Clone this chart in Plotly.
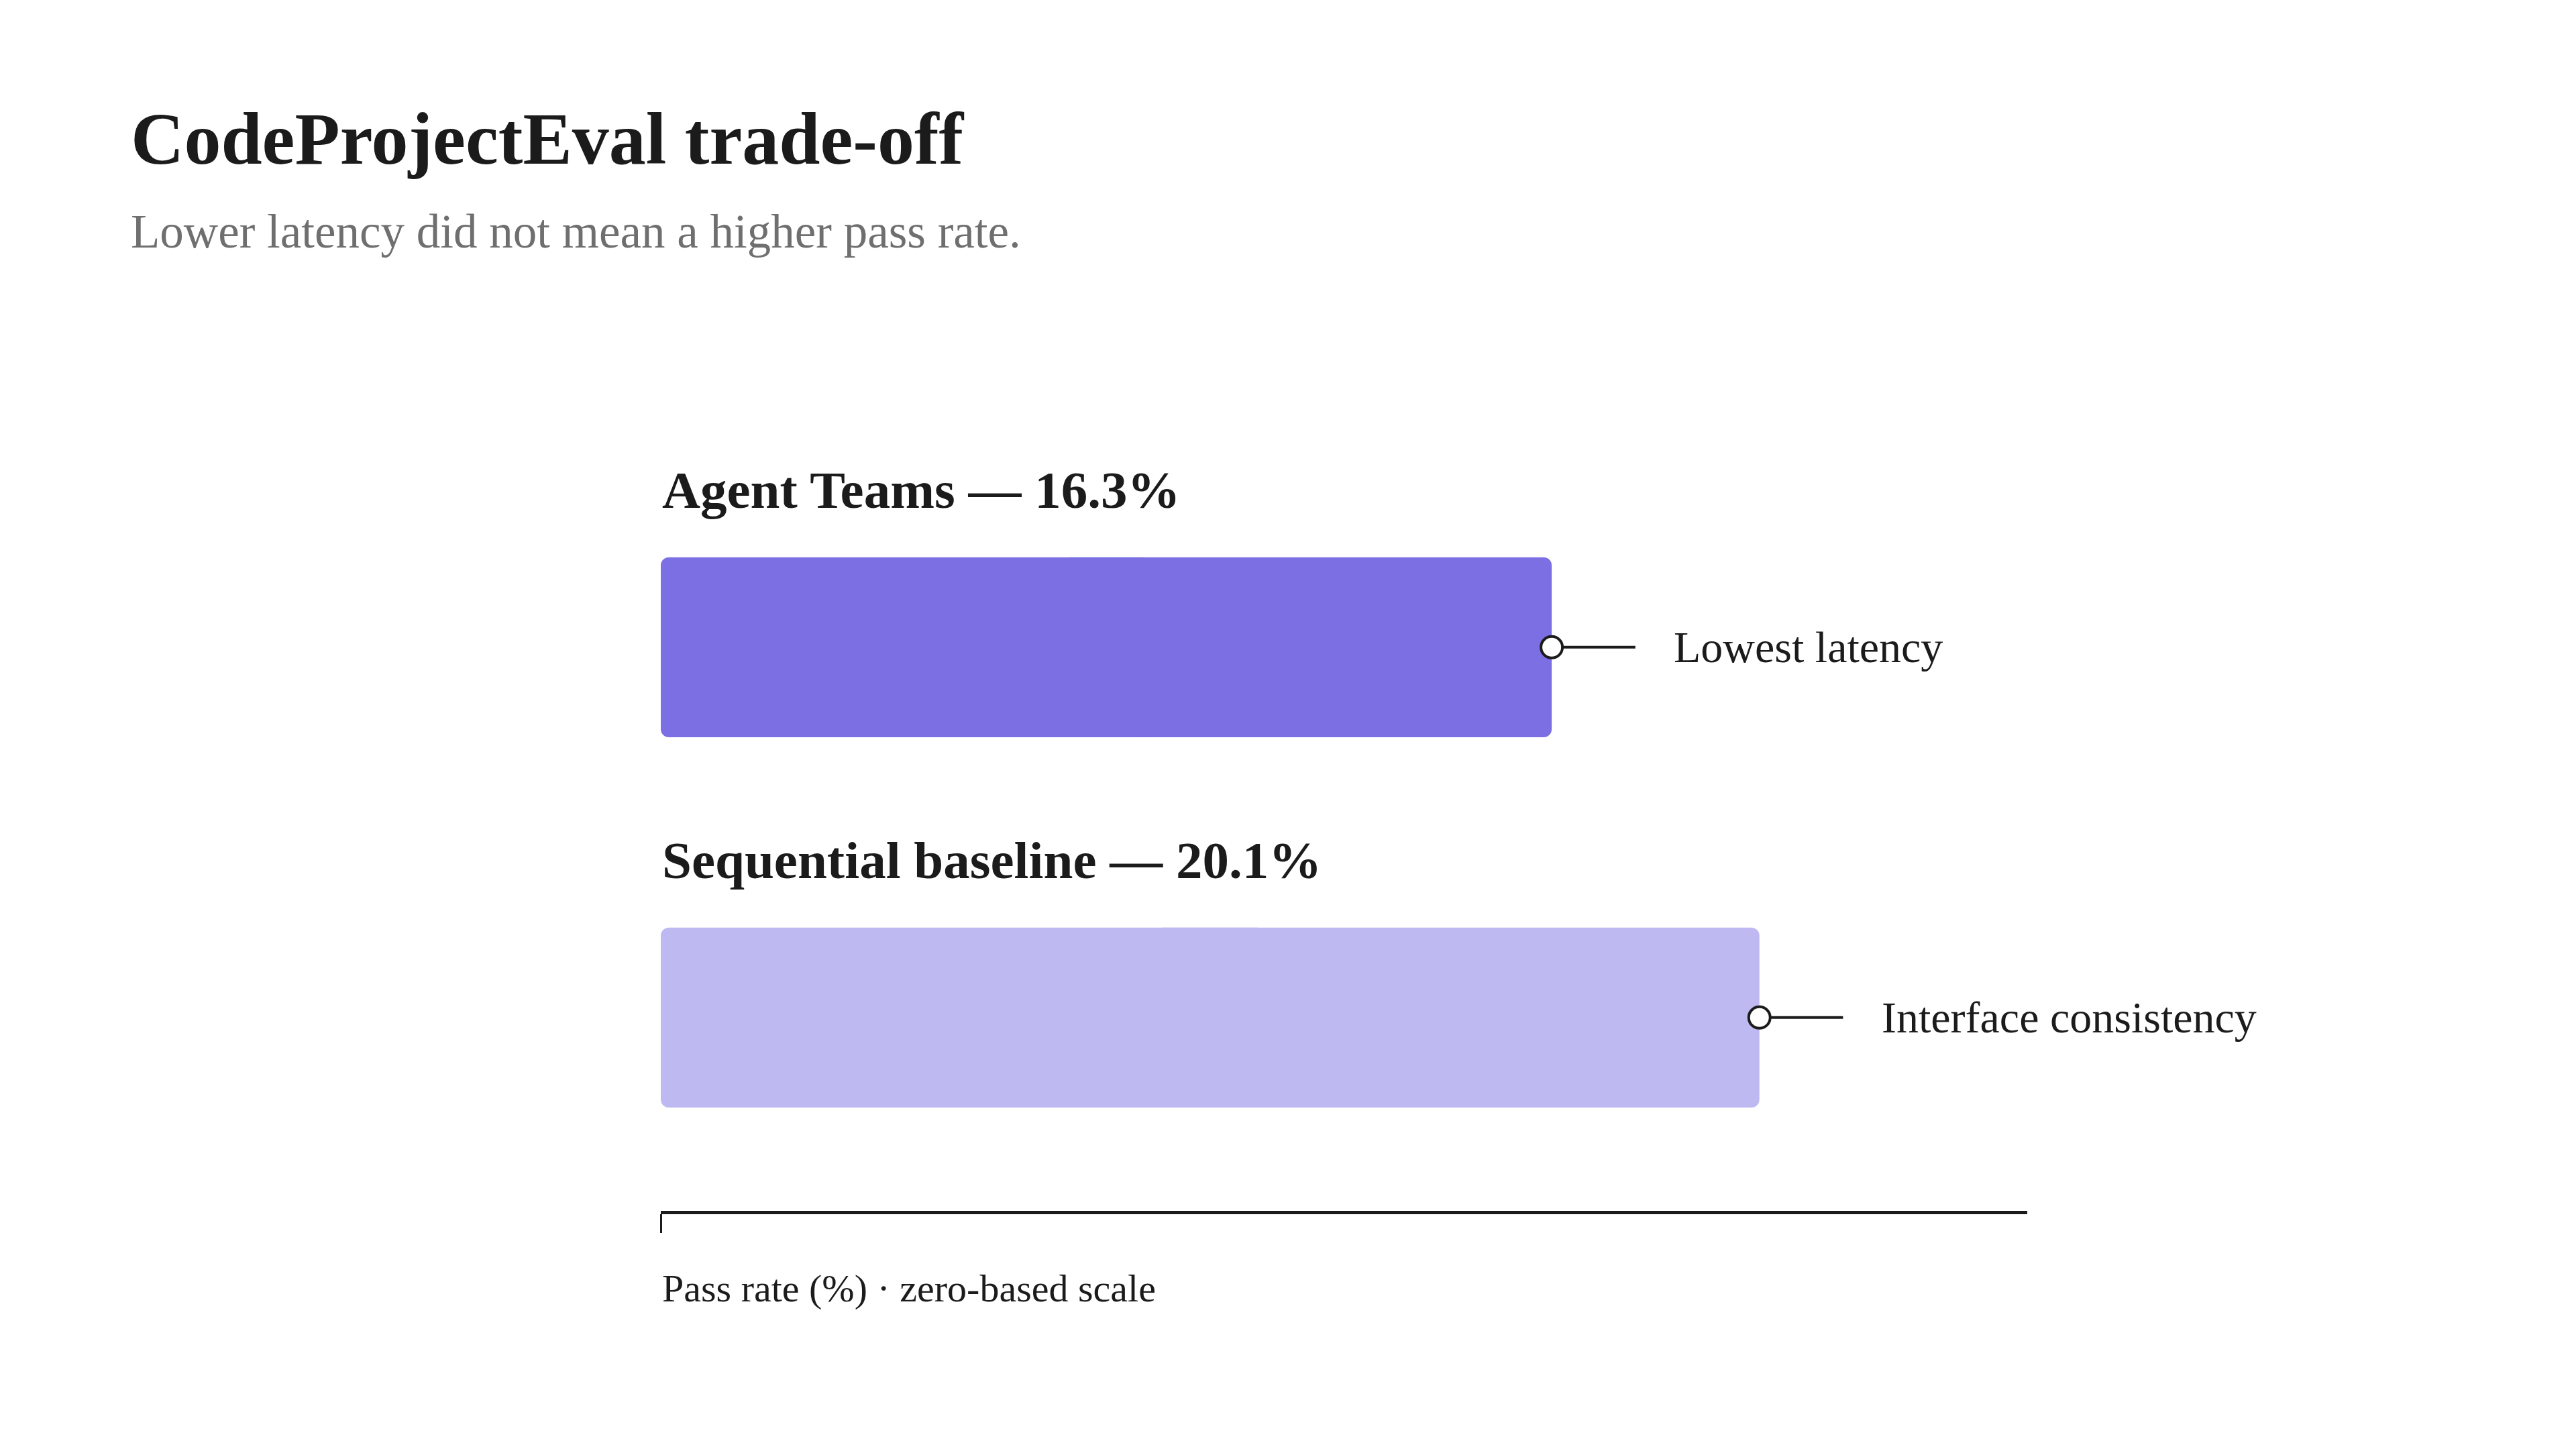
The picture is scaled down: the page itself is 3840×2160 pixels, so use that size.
import plotly.graph_objects as go

# ---- data ----
categories = ["Agent Teams", "Sequential baseline"]
pass_rates = [16.3, 20.1]
callouts = ["Lowest latency", "Interface consistency"]
bar_colors = ["#7B6FE3", "#BFB9F2"]
title_text = "CodeProjectEval trade-off"
subtitle_text = "Lower latency did not mean a higher pass rate."
axis_note = "Pass rate (%) · zero-based scale"
x_max = 25

W, H = 3840, 2160
OFF = 8  # page body margin offset
SERIF = "Liberation Serif, Times New Roman, serif"
INK = "#1b1b1b"

# layout in pixels
x_left_px, x_right_px = 985 - OFF, 3022 - OFF
y_top_px, y_bot_px = 468 - OFF, 1805 - OFF
callout_len = 1.53   # data units
text_gap = 0.68      # data units
bar_w = 0.486

fig = go.Figure()

# each bar drawn as two overlapping halves so that all four corners are rounded
fig.add_trace(go.Bar(
    x=[v * 0.55 for v in pass_rates], base=[v * 0.45 for v in pass_rates],
    y=categories, orientation="h",
    marker=dict(color=bar_colors, line=dict(width=0)),
    width=bar_w, hoverinfo="skip", showlegend=False,
))
fig.add_trace(go.Bar(
    x=[-v * 0.55 for v in pass_rates], base=[v * 0.55 for v in pass_rates],
    y=categories, orientation="h",
    marker=dict(color=bar_colors, line=dict(width=0)),
    width=bar_w, hoverinfo="skip", showlegend=False,
))

# callout leader lines
for cat, v in zip(categories, pass_rates):
    fig.add_trace(go.Scatter(
        x=[v, v + callout_len], y=[cat, cat], mode="lines",
        line=dict(color=INK, width=4), hoverinfo="skip", showlegend=False,
    ))

# circle markers at bar ends
fig.add_trace(go.Scatter(
    x=pass_rates, y=categories, mode="markers",
    marker=dict(size=32, color="white", line=dict(color=INK, width=4)),
    hoverinfo="skip", showlegend=False,
))

annotations = []
for cat, v, txt in zip(categories, pass_rates, callouts):
    annotations.append(dict(
        x=v + callout_len + text_gap, y=cat, xref="x", yref="y",
        text=txt, showarrow=False, xanchor="left", yanchor="middle",
        font=dict(family=SERIF, size=66, color=INK),
    ))
    annotations.append(dict(
        x=0, y=cat, xref="x", yref="y", yshift=234,
        text=f"<b>{cat} — {v:.1f}%</b>", showarrow=False,
        xanchor="left", yanchor="middle",
        font=dict(family=SERIF, size=79, color=INK),
    ))

annotations.append(dict(
    x=(193 - OFF) / W, y=1 - (207 - OFF) / H, xref="paper", yref="paper",
    text=f"<b>{title_text}</b>", showarrow=False, xanchor="left", yanchor="middle",
    font=dict(family=SERIF, size=110, color=INK),
))
annotations.append(dict(
    x=(193 - OFF) / W, y=1 - (345 - OFF) / H, xref="paper", yref="paper",
    text=subtitle_text, showarrow=False, xanchor="left", yanchor="middle",
    font=dict(family=SERIF, size=71, color="#6f6f6f"),
))
annotations.append(dict(
    x=0, y=1 - (1920 - OFF) / H, xref="x", yref="paper",
    text=axis_note, showarrow=False, xanchor="left", yanchor="middle",
    font=dict(family=SERIF, size=58, color=INK),
))

fig.update_layout(
    width=W, height=H,
    margin=dict(l=0, r=0, t=0, b=0),
    paper_bgcolor="white", plot_bgcolor="white",
    barmode="overlay",
    barcornerradius=12,
    annotations=annotations,
    xaxis=dict(
        domain=[x_left_px / W, x_right_px / W],
        range=[0, x_max], showgrid=False, zeroline=False,
        showline=True, linecolor=INK, linewidth=5,
        ticks="outside", tickvals=[0], ticklen=28, tickwidth=3, tickcolor=INK,
        showticklabels=False, fixedrange=True,
    ),
    yaxis=dict(
        domain=[1 - y_bot_px / H, 1 - y_top_px / H],
        type="category", categoryorder="array", categoryarray=categories,
        range=[1.522, -0.9], showgrid=False, zeroline=False, showline=False,
        showticklabels=False, ticks="", fixedrange=True,
    ),
)

fig.write_html("out.html")
